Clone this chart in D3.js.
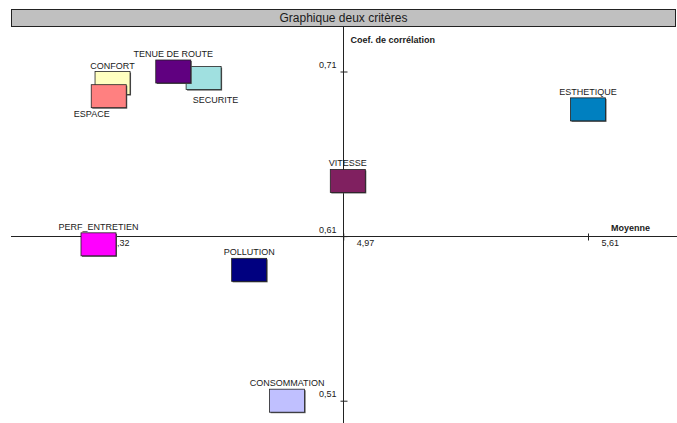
<!DOCTYPE html>
<html>
<head>
<meta charset="utf-8">
<script src="https://cdn.jsdelivr.net/npm/d3@7"></script>
<style>
  body { margin: 0; background: #fff; }
  svg text { font-family: "Liberation Sans", Arial, sans-serif; fill: #1a1a1a; }
</style>
</head>
<body>
<div id="chart"></div>
<script>
// criteria, in drawing order
var criteres = ["CONFORT", "ESPACE", "SECURITE", "TENUE DE ROUTE", "VITESSE",
                "PERF_ENTRETIEN", "POLLUTION", "ESTHETIQUE", "CONSOMMATION"];
// mean score (x)
var moyennes = [4.36, 4.35, 4.60, 4.52, 4.98, 4.323, 4.72, 5.613, 4.82];
// correlation coefficient (y)
var coefs = [0.703, 0.695, 0.706, 0.71, 0.6435, 0.605, 0.5895, 0.687, 0.51];
var couleurs = ["#ffffc0", "#ff8080", "#a0e0e0", "#600080", "#802060",
                "#ff00ff", "#000080", "#0080c0", "#c0c0ff"];

var titre = "Graphique deux critères";
var xTitre = "Moyenne";
var yTitre = "Coef. de corrélation";

var width = 677, height = 423;
var boxW = 35, boxH = 23;

// labels that were moved below their box in the original
var labelBelow = { "SECURITE": { dx: 12, dy: 13 }, "ESPACE": { dx: -17, dy: 9 } };

var svg = d3.select("#chart").append("svg")
    .attr("width", width)
    .attr("height", height);

var xMin = d3.min(moyennes), xMax = d3.max(moyennes);
var yMin = d3.min(coefs), yMax = d3.max(coefs);
var xMid = (xMin + xMax) / 2, yMid = (yMin + yMax) / 2;

var x = d3.scaleLinear().domain([xMin, xMax]).range([98.5, 588]);
var y = d3.scaleLinear().domain([yMin, yMax]).range([400.7, 71.5]);

var fmt = function(v) { return d3.format(".2f")(v).replace(".", ","); };

// title bar
svg.append("rect")
    .attr("x", 11.5).attr("y", 9.5)
    .attr("width", 664).attr("height", 17)
    .attr("fill", "#c0c0c0")
    .attr("stroke", "#222");
svg.append("text")
    .attr("x", 343.5).attr("y", 22)
    .attr("text-anchor", "middle")
    .style("font-size", "12px")
    .text(titre);

var x0 = Math.round(x(xMid)) + 0.5;
var y0 = Math.round(y(yMid)) + 0.5;

// horizontal axis
var gx = svg.append("g")
    .attr("transform", "translate(0," + y0 + ")")
    .call(d3.axisBottom(x).tickValues([xMin, xMid, xMax]).tickFormat(fmt).tickSize(4));
gx.select(".domain").remove();
gx.selectAll(".tick line").attr("y1", -3).attr("y2", 4).attr("stroke", "#222");
gx.selectAll(".tick text")
    .attr("text-anchor", "start")
    .attr("x", 13).attr("y", 9).attr("dy", 0)
    .style("font-size", "9px").style("font-family", null);
gx.append("line")
    .attr("x1", 11).attr("x2", 677)
    .attr("stroke", "#222");

// vertical axis
var gy = svg.append("g")
    .attr("transform", "translate(" + x0 + ",0)")
    .call(d3.axisLeft(y).tickValues([yMin, yMid, yMax]).tickFormat(fmt).tickSize(4));
gy.select(".domain").remove();
gy.selectAll(".tick line").attr("x1", -3).attr("x2", 4).attr("stroke", "#222");
gy.selectAll(".tick text")
    .attr("text-anchor", "end")
    .attr("x", -7).attr("y", -4).attr("dy", 0)
    .style("font-size", "9px").style("font-family", null);
gy.append("line")
    .attr("y1", 26).attr("y2", 423)
    .attr("stroke", "#222");

gx.attr("font-family", null).attr("font-size", null);
gy.attr("font-family", null).attr("font-size", null);

// axis titles
svg.append("text")
    .attr("x", 650).attr("y", y0 - 6)
    .attr("text-anchor", "end")
    .style("font-size", "9px").style("font-weight", "bold")
    .text(xTitre);
svg.append("text")
    .attr("x", x0 + 7).attr("y", 43)
    .style("font-size", "9px").style("font-weight", "bold")
    .text(yTitre);

// points as boxes
var pts = criteres.map(function(c, i) {
    return { nom: c, mx: moyennes[i], cy: coefs[i], col: couleurs[i] };
});

var g = svg.selectAll("g.pt")
    .data(pts)
  .enter().append("g")
    .attr("class", "pt");

g.append("rect")
    .attr("x", function(d) { return x(d.mx) - boxW / 2 + 1; })
    .attr("y", function(d) { return y(d.cy) - boxH / 2 + 1; })
    .attr("width", boxW).attr("height", boxH)
    .attr("fill", "#555");
g.append("rect")
    .attr("x", function(d) { return x(d.mx) - boxW / 2; })
    .attr("y", function(d) { return y(d.cy) - boxH / 2; })
    .attr("width", boxW).attr("height", boxH)
    .attr("fill", function(d) { return d.col; })
    .attr("stroke", "#222").attr("stroke-width", 0.8);

g.append("text")
    .attr("x", function(d) {
        var lb = labelBelow[d.nom];
        return x(d.mx) + (lb ? lb.dx : 0);
    })
    .attr("y", function(d) {
        var lb = labelBelow[d.nom];
        return lb ? y(d.cy) + boxH / 2 + lb.dy : y(d.cy) - boxH / 2 - 3;
    })
    .attr("text-anchor", "middle")
    .style("font-size", "9px")
    .text(function(d) { return d.nom; });
</script>
</body>
</html>
